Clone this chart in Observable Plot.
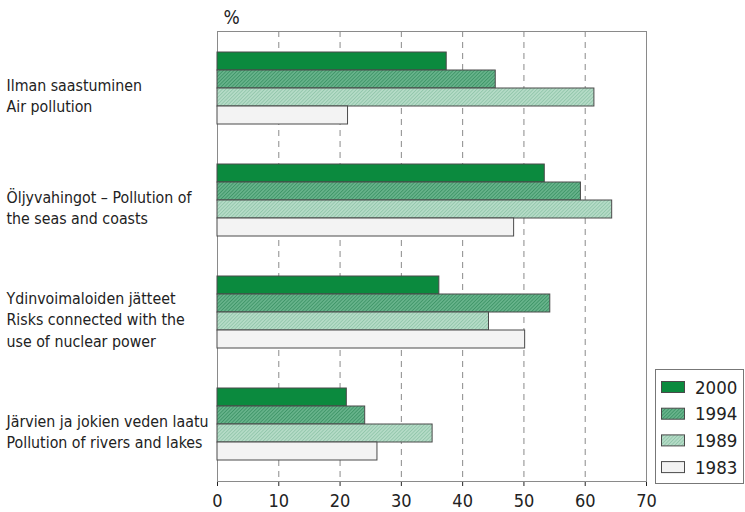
<!DOCTYPE html>
<html><head><meta charset="utf-8">
<script src="https://cdn.jsdelivr.net/npm/d3@7"></script>
<script src="https://cdn.jsdelivr.net/npm/@observablehq/plot@0.6"></script>
<style>
body{margin:0;background:#fff;}
#wrap{position:relative;width:745px;height:512px;font-family:"DejaVu Sans Condensed","Liberation Sans Narrow",sans-serif;}
#wrap > svg{position:absolute;left:0;top:0;}
</style></head><body>
<svg width="0" height="0" style="position:absolute">
<defs>
<pattern id="p1994" width="2.5" height="2.5" patternUnits="userSpaceOnUse" patternTransform="rotate(45)">
<rect width="2.5" height="2.5" fill="#68b48c"/><rect width="0.9" height="2.5" fill="#3f9568"/>
</pattern>
<pattern id="p1989" width="2.5" height="2.5" patternUnits="userSpaceOnUse" patternTransform="rotate(45)">
<rect width="2.5" height="2.5" fill="#b6dcc8"/><rect width="0.9" height="2.5" fill="#92c6ab"/>
</pattern>
</defs></svg>
<div id="wrap"></div>
<script>
const categories = [
  "Ilman saastuminen\nAir pollution",
  "Öljyvahingot – Pollution of\nthe seas and coasts",
  "Ydinvoimaloiden jätteet\nRisks connected with the\nuse of nuclear power",
  "Järvien ja jokien veden laatu\nPollution of rivers and lakes"
];
const years = ["2000", "1994", "1989", "1983"];
const v2000 = [37.4, 53.4, 36.2, 21.1];
const v1994 = [45.4, 59.3, 54.3, 24.1];
const v1989 = [61.5, 64.4, 44.3, 35.1];
const v1983 = [21.3, 48.4, 50.2, 26.1];
const xTicks = [0, 10, 20, 30, 40, 50, 60, 70];
const gridTicks = [10, 20, 30, 40, 50, 60];
const yearFills = ["#0b8a3e", "url(#p1994)", "url(#p1989)", "#f3f3f3"];

const series = [v2000, v1994, v1989, v1983];
const rows = [];
categories.forEach((c, i) => years.forEach((y, j) => rows.push({category: c, year: y, value: series[j][i]})));

const font = '"DejaVu Sans Condensed","Liberation Sans Narrow",sans-serif';
const dims = {width: 745, height: 512, marginLeft: 217, marginRight: 99, marginTop: 31, marginBottom: 31};

const bg = Plot.plot({
  ...dims,
  style: {background: "transparent", fontFamily: font, fontSize: "18px", color: "#222"},
  x: {domain: [0, 70], ticks: xTicks, tickSize: 5, tickPadding: 8, label: null},
  y: {domain: [0, 1], axis: null},
  marks: [
    Plot.ruleX(gridTicks, {stroke: "#8a8a8a", strokeDasharray: "6,5", strokeWidth: 1}),
    Plot.frame({stroke: "#8a8a8a"}),
    Plot.text(["%"], {frameAnchor: "top-left", dx: 6, dy: -8, lineAnchor: "bottom", textAnchor: "start", fontSize: 19, fill: "#222"})
  ]
});

const fg = Plot.plot({
  ...dims,
  style: {background: "transparent", fontFamily: font, fontSize: "15.8px", color: "#222"},
  x: {domain: [0, 70], axis: null},
  fy: {domain: categories, paddingInner: 0.354, paddingOuter: 0.177, axis: null},
  y: {domain: years, padding: 0, axis: null},
  color: {domain: years, range: yearFills},
  marks: [
    Plot.barX(rows, {x: "value", y: "year", fy: "category", fill: "year", stroke: "#4a4a4a", strokeWidth: 1}),
    Plot.text(categories, {fy: d => d, text: d => d, frameAnchor: "left", textAnchor: "start", dx: -211, dy: 6, fontSize: 15.8, lineHeight: 1.38, fill: "#222"})
  ]
});

const wrap = document.getElementById("wrap");
wrap.appendChild(bg);
wrap.appendChild(fg);

// legend
const color = fg.scale("color");
const leg = d3.create("svg").attr("width", 745).attr("height", 512).style("pointer-events", "none");
const g = leg.append("g").attr("transform", "translate(655,369)");
g.append("rect").attr("x", 0.5).attr("y", 0.5).attr("width", 88).attr("height", 114).attr("fill", "#fff").attr("stroke", "#777");
years.forEach((y, i) => {
  const cy = 18 + i * 26.7;
  g.append("rect").attr("x", 6.5).attr("y", cy - 5.5).attr("width", 23).attr("height", 11)
    .attr("fill", color.apply(y)).attr("stroke", "#4a4a4a");
  g.append("text").attr("x", 40).attr("y", cy).attr("dy", "0.36em").attr("font-size", 18.5)
    .attr("font-family", font).attr("fill", "#222").text(y);
});
wrap.appendChild(leg.node());
</script>
</body></html>
